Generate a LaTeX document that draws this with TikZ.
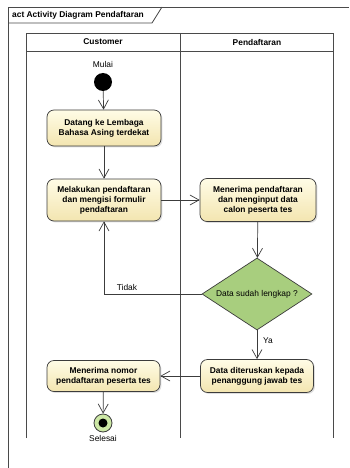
\documentclass[tikz,border=0pt]{standalone}
\usepackage{fontspec}
\setmainfont{Liberation Sans}
\usetikzlibrary{arrows.meta,shapes.geometric,shadows,calc}

\definecolor{linegray}{HTML}{3C3C3C}
\definecolor{lanegray}{HTML}{4A4A4A}
\definecolor{acttop}{HTML}{FFFCE6}
\definecolor{actbot}{HTML}{F3E5B0}
\definecolor{decfill}{HTML}{A8CE7E}
\definecolor{endfill}{HTML}{CDE8A6}

\tikzset{
  actbox/.style={rectangle, rounded corners=7pt, draw=linegray, line width=0.7pt,
    top color=acttop, bottom color=actbot, align=center, inner sep=2pt,
    font=\fontsize{8.4}{10}\selectfont\bfseries,
    drop shadow={shadow xshift=1.4pt, shadow yshift=-1.4pt, opacity=0.25}},
  decbox/.style={diamond, draw=linegray, line width=0.7pt, fill=decfill,
    minimum width=110pt, minimum height=72pt, inner sep=0pt, aspect=1.53,
    font=\fontsize{8.4}{10}\selectfont},
  flow/.style={draw=linegray, line width=0.7pt,
    -{Straight Barb[length=9pt, width=10pt, line width=0.7pt]}},
  lane/.style={draw=lanegray, line width=0.8pt},
  plain/.style={font=\fontsize{8.4}{10}\selectfont, inner sep=1pt},
  head/.style={font=\fontsize{8.4}{10}\selectfont\bfseries, inner sep=1pt}
}

\begin{document}
\begin{tikzpicture}[x=1pt, y=-1pt]
  \useasboundingbox[fill=white] (0,0) rectangle (349,468);

  % diagram frame with its name tab
  \draw[lane] (8,468) -- (8,7) -- (349,7);
  \draw[lane] (8,23) -- (152,23) -- (162,7);
  \node[head, anchor=west] (title) at (11,15) {act Activity Diagram Pendaftaran};

  % swimlanes
  \draw[lane] (26,438) -- (26,33) -- (333,33) -- (333,438);
  \draw[lane] (26,51) -- (333,51);
  \draw[lane] (180,33) -- (180,438);
  \node[head] (laneA) at (103,42) {Customer};
  \node[head] (laneB) at (257,42) {Pendaftaran};

  % start node
  \node[plain] (mulai) at (103,64) {Mulai};
  \node[circle, fill=black, minimum size=18pt, inner sep=0pt] (start) at (103,82) {};

  % actions
  \node[actbox, minimum width=114pt, minimum height=36pt] (a1) at (104,128)
    {Datang ke Lembaga\\Bahasa Asing terdekat};
  \node[actbox, minimum width=114pt, minimum height=42pt] (a2) at (104,200)
    {Melakukan pendaftaran\\dan mengisi formulir\\pendaftaran};
  \node[actbox, minimum width=116pt, minimum height=43pt] (a3) at (258,200)
    {Menerima pendaftaran\\dan menginput data\\calon peserta tes};
  \node[decbox] (dec) at (257,294) {Data sudah lengkap ?};
  \node[actbox, minimum width=113pt, minimum height=33pt] (a4) at (257,376)
    {Data diteruskan kepada\\penanggung jawab tes};
  \node[actbox, minimum width=113pt, minimum height=31pt] (a5) at (103.5,376)
    {Menerima nomor\\pendaftaran peserta tes};

  % final node
  \node[circle, draw=linegray, line width=0.8pt, fill=endfill, minimum size=18pt, inner sep=0pt] (end) at (103,423) {};
  \node[circle, fill=black, minimum size=9pt, inner sep=0pt] (endin) at (end) {};
  \node[plain] (selesai) at (103,438) {Selesai};

  % control flows
  \draw[flow] (start) -- (a1);
  \draw[flow] (a1) -- (a2);
  \draw[flow] (a2) -- (a3);
  \draw[flow] (a3) -- (dec);
  \draw[flow] (dec.west) -| (a2.south);
  \node[plain] (tidak) at (127,287) {Tidak};
  \draw[flow] (dec.south) -- (a4.north);
  \node[plain] (ya) at (268,341) {Ya};
  \draw[flow] (a4) -- (a5);
  \draw[flow] (a5) -- (end);
\end{tikzpicture}
\end{document}
